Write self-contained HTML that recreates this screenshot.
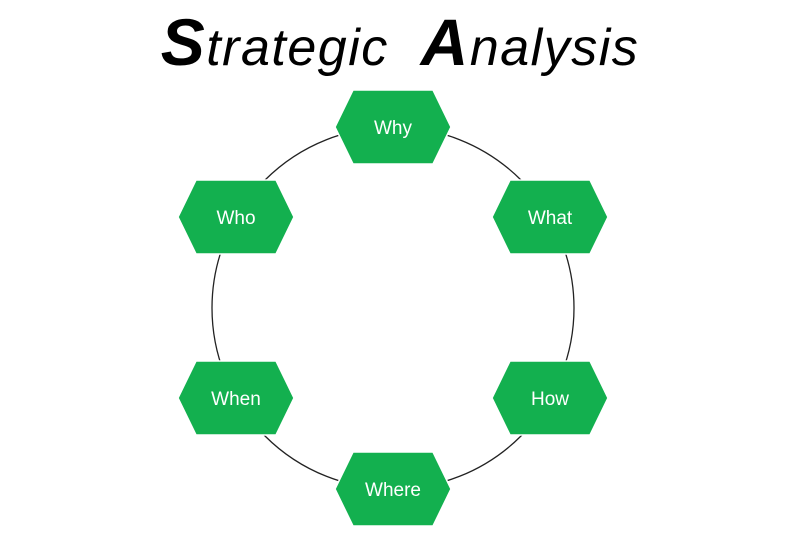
<!DOCTYPE html>
<html><head><style>
body{margin:0;width:800px;height:542px;background:#fff;overflow:hidden;position:relative;font-family:"Liberation Sans",sans-serif}
.t{position:absolute;left:0;width:800px;top:4px;text-align:center;font-style:italic;font-size:52px;color:#000;white-space:nowrap;letter-spacing:1.5px}
.t b{font-size:66px;font-weight:bold}
</style></head><body>
<div class="t"><b>S</b>trategic&nbsp;&nbsp;<b>A</b>nalysis</div>
<svg width="800" height="542" style="position:absolute;left:0;top:0">
<circle cx="393" cy="308" r="181" fill="none" stroke="#222" stroke-width="1.3"/>
<defs><polygon id="hx" points="-58,0 -40,-37 40,-37 58,0 40,37 -40,37" fill="#13b04f" stroke="#fff" stroke-width="1.5"/></defs>
<g font-family="Liberation Sans, sans-serif" font-size="19" fill="#fff" text-anchor="middle">
<use href="#hx" x="393" y="127"/><text x="393" y="134">Why</text>
<use href="#hx" x="236" y="217"/><text x="236" y="224">Who</text>
<use href="#hx" x="550" y="217"/><text x="550" y="224">What</text>
<use href="#hx" x="236" y="398"/><text x="236" y="405">When</text>
<use href="#hx" x="550" y="398"/><text x="550" y="405">How</text>
<use href="#hx" x="393" y="489"/><text x="393" y="496">Where</text>
</g>
</svg>
</body></html>
